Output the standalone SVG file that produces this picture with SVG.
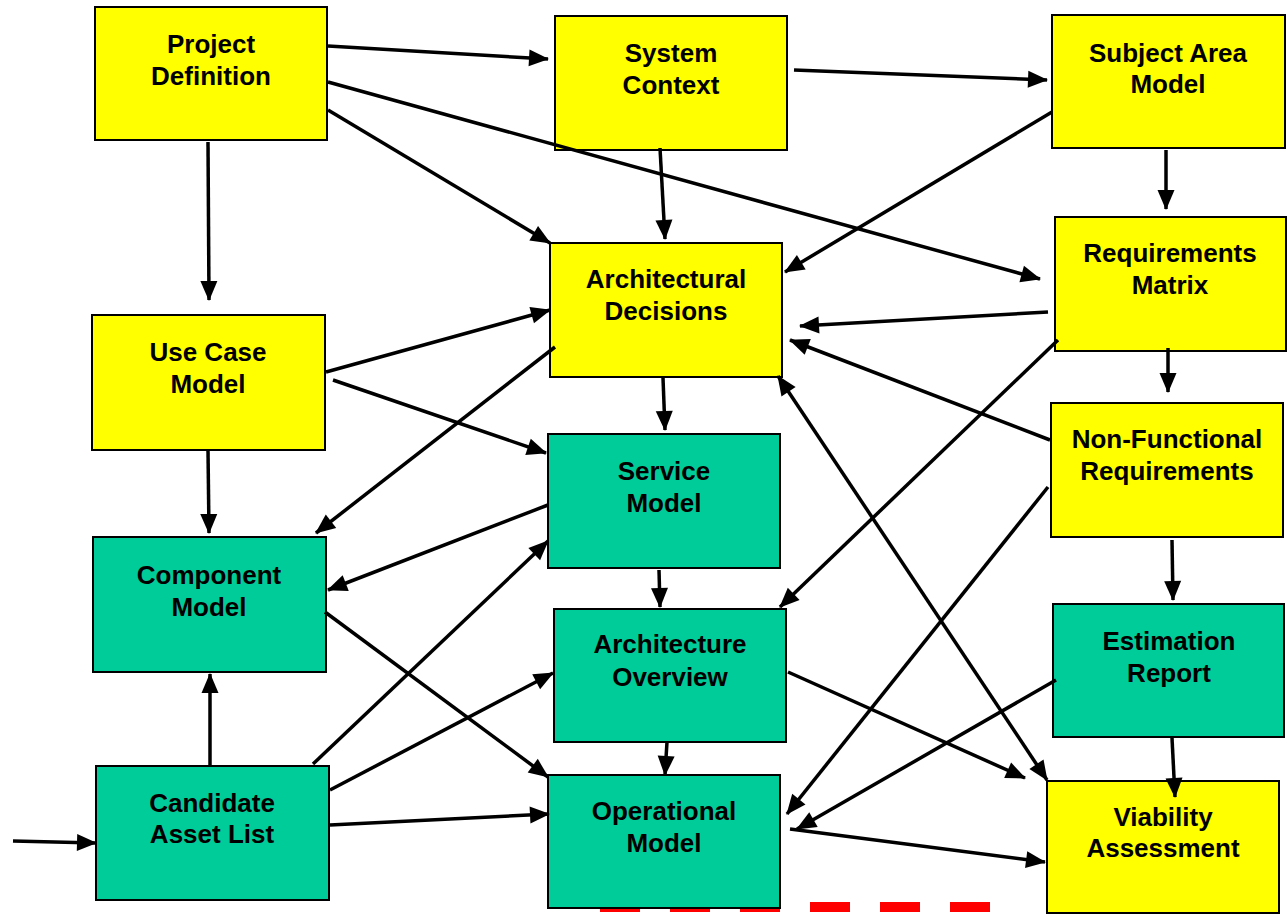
<svg xmlns="http://www.w3.org/2000/svg" width="1287" height="915" viewBox="0 0 1287 915">
  <style>
    .box { stroke: #000; stroke-width: 2; }
    .yellow { fill: #ffff00; }
    .teal { fill: #00cc99; }
    .label { font-family: "Liberation Sans", Arial, sans-serif; font-weight: bold; font-size: 26px; fill: #000; text-anchor: middle; }
    .edge { stroke: #000; stroke-width: 3.5; fill: none; marker-end: url(#arrow); }
    .both { marker-start: url(#arrow-start); }
    .dash { stroke: #ff0000; stroke-width: 10; stroke-dasharray: 40 30; fill: none; }
  </style>
  <defs>
    <marker id="arrow" markerUnits="userSpaceOnUse" markerWidth="22" markerHeight="20" refX="19" refY="8.5" orient="auto" overflow="visible">
      <path d="M0,0 L20,8.5 L0,17 z" fill="#000"/>
    </marker>
    <marker id="arrow-start" markerUnits="userSpaceOnUse" markerWidth="22" markerHeight="20" refX="19" refY="8.5" orient="auto-start-reverse" overflow="visible">
      <path d="M0,0 L20,8.5 L0,17 z" fill="#000"/>
    </marker>
  </defs>

  <rect width="1287" height="915" fill="#ffffff"/>

  <!-- red dashed rule along the bottom edge -->
  <line class="dash" x1="600" y1="907" x2="990" y2="907"/>

  <!-- nodes -->
  <g id="project-definition">
    <rect class="box yellow" x="95" y="7" width="232" height="133"/>
    <text class="label" x="211" y="53">Project</text>
    <text class="label" x="211" y="85">Definition</text>
  </g>
  <g id="system-context">
    <rect class="box yellow" x="555" y="16" width="232" height="134"/>
    <text class="label" x="671" y="62">System</text>
    <text class="label" x="671" y="94">Context</text>
  </g>
  <g id="subject-area-model">
    <rect class="box yellow" x="1052" y="15" width="233" height="133"/>
    <text class="label" x="1168" y="62">Subject Area</text>
    <text class="label" x="1168" y="93">Model</text>
  </g>
  <g id="requirements-matrix">
    <rect class="box yellow" x="1055" y="217" width="231" height="134"/>
    <text class="label" x="1170" y="262">Requirements</text>
    <text class="label" x="1170" y="294">Matrix</text>
  </g>
  <g id="non-functional-requirements">
    <rect class="box yellow" x="1051" y="403" width="232" height="134"/>
    <text class="label" x="1167" y="448">Non-Functional</text>
    <text class="label" x="1167" y="480">Requirements</text>
  </g>
  <g id="estimation-report">
    <rect class="box teal" x="1053" y="604" width="231" height="133"/>
    <text class="label" x="1169" y="650">Estimation</text>
    <text class="label" x="1169" y="682">Report</text>
  </g>
  <g id="viability-assessment">
    <rect class="box yellow" x="1047" y="781" width="232" height="132"/>
    <text class="label" x="1163" y="826">Viability</text>
    <text class="label" x="1163" y="857">Assessment</text>
  </g>
  <g id="architectural-decisions">
    <rect class="box yellow" x="550" y="243" width="232" height="134"/>
    <text class="label" x="666" y="288">Architectural</text>
    <text class="label" x="666" y="320">Decisions</text>
  </g>
  <g id="use-case-model">
    <rect class="box yellow" x="92" y="315" width="233" height="135"/>
    <text class="label" x="208" y="361">Use Case</text>
    <text class="label" x="208" y="393">Model</text>
  </g>
  <g id="component-model">
    <rect class="box teal" x="93" y="537" width="233" height="135"/>
    <text class="label" x="209" y="584">Component</text>
    <text class="label" x="209" y="616">Model</text>
  </g>
  <g id="candidate-asset-list">
    <rect class="box teal" x="96" y="766" width="233" height="134"/>
    <text class="label" x="212" y="812">Candidate</text>
    <text class="label" x="212" y="843">Asset List</text>
  </g>
  <g id="service-model">
    <rect class="box teal" x="548" y="434" width="232" height="134"/>
    <text class="label" x="664" y="480">Service</text>
    <text class="label" x="664" y="512">Model</text>
  </g>
  <g id="architecture-overview">
    <rect class="box teal" x="554" y="609" width="232" height="133"/>
    <text class="label" x="670" y="653">Architecture</text>
    <text class="label" x="670" y="686">Overview</text>
  </g>
  <g id="operational-model">
    <rect class="box teal" x="548" y="775" width="232" height="133"/>
    <text class="label" x="664" y="820">Operational</text>
    <text class="label" x="664" y="852">Model</text>
  </g>

  <!-- connectors -->
  <g id="connectors">
    <line class="edge" x1="328" y1="46" x2="548" y2="59"/>
    <line class="edge" x1="328" y1="82" x2="1040" y2="279"/>
    <line class="edge" x1="328" y1="110" x2="550" y2="243"/>
    <line class="edge" x1="208" y1="142" x2="209" y2="300"/>
    <line class="edge" x1="794" y1="70" x2="1047" y2="80"/>
    <line class="edge" x1="660" y1="148" x2="665" y2="239"/>
    <line class="edge" x1="1052" y1="112" x2="785" y2="272"/>
    <line class="edge" x1="1166" y1="150" x2="1166" y2="209"/>
    <line class="edge" x1="1048" y1="312" x2="800" y2="326"/>
    <line class="edge" x1="1168" y1="348" x2="1168" y2="392"/>
    <line class="edge" x1="1058" y1="340" x2="780" y2="607"/>
    <line class="edge" x1="1050" y1="440" x2="790" y2="340"/>
    <line class="edge" x1="1048" y1="487" x2="787" y2="814"/>
    <line class="edge" x1="1172" y1="540" x2="1173" y2="600"/>
    <line class="edge" x1="1056" y1="680" x2="797" y2="829"/>
    <line class="edge" x1="1172" y1="738" x2="1175" y2="797"/>
    <line class="edge both" x1="778" y1="376" x2="1047" y2="780"/>
    <line class="edge" x1="788" y1="672" x2="1025" y2="778"/>
    <line class="edge" x1="790" y1="829" x2="1045" y2="862"/>
    <line class="edge" x1="326" y1="372" x2="550" y2="310"/>
    <line class="edge" x1="333" y1="380" x2="546" y2="453"/>
    <line class="edge" x1="208" y1="450" x2="209" y2="533"/>
    <line class="edge" x1="555" y1="347" x2="316" y2="533"/>
    <line class="edge" x1="663" y1="378" x2="665" y2="430"/>
    <line class="edge" x1="548" y1="505" x2="328" y2="590"/>
    <line class="edge" x1="659" y1="570" x2="660" y2="607"/>
    <line class="edge" x1="325" y1="612" x2="548" y2="777"/>
    <line class="edge" x1="210" y1="765" x2="210" y2="674"/>
    <line class="edge" x1="313" y1="764" x2="548" y2="541"/>
    <line class="edge" x1="330" y1="790" x2="553" y2="673"/>
    <line class="edge" x1="330" y1="825" x2="549" y2="814"/>
    <line class="edge" x1="667" y1="742" x2="665" y2="775"/>
    <line class="edge" x1="13" y1="841" x2="96" y2="843"/>
  </g>
</svg>
